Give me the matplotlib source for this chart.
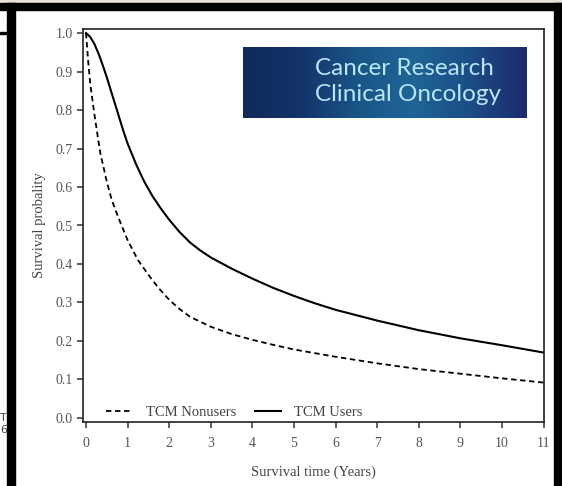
import numpy as np
import matplotlib.pyplot as plt
from matplotlib.colors import LinearSegmentedColormap

# survival curves
t_users = [0, 0.1, 0.2, 0.3, 0.4, 0.5, 0.6, 0.7, 0.8, 0.9, 1.0, 1.2, 1.4, 1.6, 1.8, 2.0,
           2.25, 2.5, 2.75, 3.0, 3.5, 4.0, 4.5, 5.0, 5.5, 6.0, 7.0, 8.0, 9.0, 10.0, 11.0]
s_users = [1.0, 0.99, 0.972, 0.947, 0.917, 0.885, 0.85, 0.815, 0.78, 0.745, 0.713, 0.66,
           0.614, 0.576, 0.544, 0.515, 0.483, 0.456, 0.435, 0.417, 0.388, 0.362, 0.338,
           0.317, 0.298, 0.281, 0.253, 0.228, 0.207, 0.189, 0.17]
t_non = [0, 0.05, 0.1, 0.2, 0.34, 0.5, 0.62, 0.78, 1.0, 1.25, 1.5, 1.75, 2.0, 2.25, 2.5,
         3.0, 3.5, 4.0, 4.5, 5.0, 6.0, 7.0, 8.0, 9.0, 10.0, 11.0]
s_non = [1.0, 0.93, 0.87, 0.79, 0.69, 0.614, 0.566, 0.52, 0.462, 0.41, 0.372, 0.337, 0.307,
         0.283, 0.263, 0.237, 0.218, 0.203, 0.19, 0.178, 0.159, 0.142, 0.127, 0.115,
         0.103, 0.092]
x_ticks = list(range(0, 12))
y_ticks = [0.0, 0.1, 0.2, 0.3, 0.4, 0.5, 0.6, 0.7, 0.8, 0.9, 1.0]

plt.rcParams['font.family'] = ['Liberation Serif', 'DejaVu Serif']

W, H = 562, 486
fig = plt.figure(figsize=(W / 100, H / 100), dpi=100)
fig.patch.set_facecolor('white')

# screenshot frame
def px_rect(x0, y0, x1, y1, color):
    fig.patches.append(plt.Rectangle((x0 / W, 1 - y1 / H), (x1 - x0) / W, (y1 - y0) / H,
                                     transform=fig.transFigure, color=color, zorder=0))

px_rect(0, 0, W, 3, '#e6e2d6')
px_rect(0, 3, W, 10, 'black')
px_rect(7, 3, 15, H, 'black')
px_rect(554, 3, W, H, 'black')
px_rect(0, 32, 7, 34, 'black')
fig.text(0.5 / W, 1 - 418 / H, 'T', fontsize=8, color='#444444', ha='left', va='center',
         family='DejaVu Sans')
fig.text(0.5 / W, 1 - 430 / H, '6', fontsize=8, color='#444444', ha='left', va='center',
         family='DejaVu Sans')

ax = fig.add_axes([83 / W, 1 - 422 / H, (544 - 83) / W, (422 - 29) / H])
ax.plot(t_non, s_non, color='black', linestyle=(0, (3, 2)), linewidth=1.3, label='TCM Nonusers')
ax.plot(t_users, s_users, color='black', linestyle='-', linewidth=1.5, label='TCM Users')

ax.set_xlim(-0.072, 11.01)
ax.set_ylim(-0.0104, 1.0104)
ax.set_xticks(x_ticks)
ax.set_yticks(y_ticks)
ax.set_yticklabels([f'{v:.1f}' for v in y_ticks])
ax.tick_params(direction='out', length=4, width=1.1, color='#333333', labelsize=10,
               labelcolor='#555555')
ax.tick_params(axis='x', pad=7)
for sp in ax.spines.values():
    sp.set_linewidth(1.2)
    sp.set_color('#222222')
ax.set_xlabel('Survival time (Years)', fontsize=10.5, color='#444444', labelpad=11)
ax.set_ylabel('Survival probality', fontsize=10.5, color='#444444', labelpad=7)

ax.legend(loc='lower left', bbox_to_anchor=(0.022, -0.025), ncol=2, frameon=False,
          fontsize=10.5, handlelength=1.8, handletextpad=0.9, columnspacing=1.3,
          labelcolor='#444444')

# journal logo inset
lax = fig.add_axes([243 / W, 1 - 118 / H, (527 - 243) / W, (118 - 47) / H])
cmap = LinearSegmentedColormap.from_list('logo', ['#102a5a', '#13336a', '#1a5587',
                                                  '#1f6596', '#1b4d86', '#1c2b6c'])
grad = np.linspace(0, 1, 256).reshape(1, -1)
lax.imshow(grad, aspect='auto', cmap=cmap, extent=[0, 1, 0, 1])
lax.set_xlim(0, 1)
lax.set_ylim(0, 1)
lax.axis('off')
lax.text(0.255, 0.70, 'Cancer Research', color='#b9e6f4', fontsize=17.5, va='center',
         ha='left', family='Lato')
lax.text(0.255, 0.33, 'Clinical Oncology', color='#b9e6f4', fontsize=17.5, va='center',
         ha='left', family='Lato')

fig.savefig('out.png', dpi=100)
